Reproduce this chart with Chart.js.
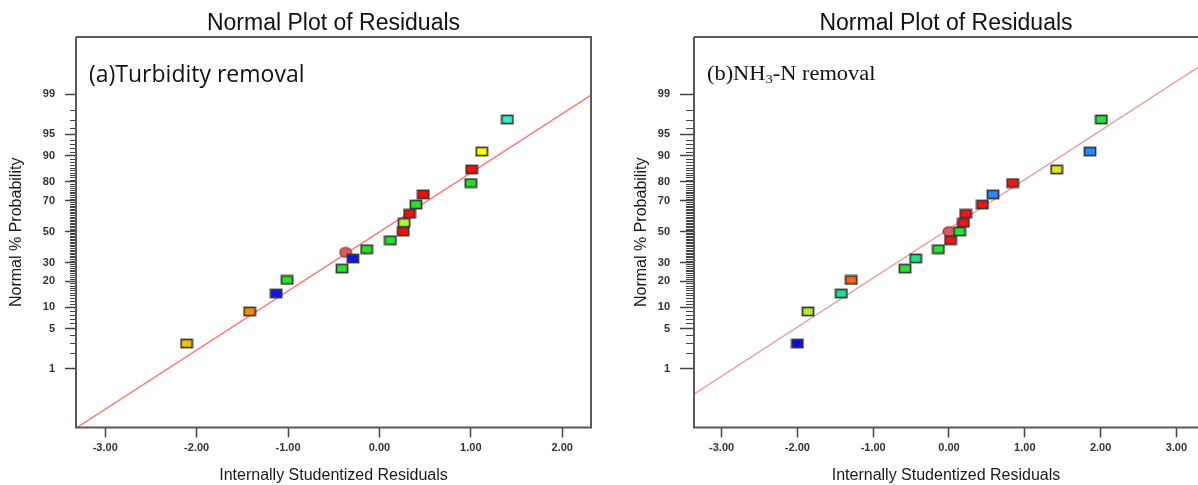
<!DOCTYPE html>
<html lang="en">
<head>
<meta charset="UTF-8">
<title>Normal Plot of Residuals</title>
<script src="https://cdn.jsdelivr.net/npm/chart.js"></script>
<style>
    body {
        margin: 0;
        background: #fff;
        width: 1198px;
        height: 485px;
        overflow: hidden;
        position: relative;
    }
    canvas {
        position: absolute;
        top: 0;
    }
    #chartA { left: 0; }
    #chartB { left: 600px; }
</style>
</head>
<body>

<canvas id="chartA" width="600" height="485"></canvas>
<canvas id="chartB" width="598" height="485"></canvas>

<script>
// probability axis labels (%)
const probTicks = [1, 5, 10, 20, 30, 50, 70, 80, 90, 95, 99];
const residTicksA = [-3, -2, -1, 0, 1, 2];
const residTicksB = [-3, -2, -1, 0, 1, 2, 3];

// (a) Turbidity removal
const turbResid = [-2.11, -1.42, -1.13, -1.01, -0.41, -0.29, -0.14, 0.12, 0.26, 0.27, 0.33, 0.40, 0.48, 1.00, 1.01, 1.12, 1.40];
const turbProb = [2.9, 8.8, 14.7, 20.6, 26.5, 32.4, 38.2, 44.1, 50.0, 55.9, 61.8, 67.6, 73.5, 79.4, 85.3, 91.2, 97.1];
const turbColors = ['#f5c400', '#ff8c00', '#0a14f0', '#22e622', '#22e622', '#0a14f0', '#22e622', '#22e622', '#ff0a0a',
    '#b4ff1e', '#ff0a0a', '#22e622', '#ff0a0a', '#22e622', '#ff0a0a', '#ffff00', '#30eec8'];
const turbCenterResid = [-0.37];
const turbCenterProb = [36.2];
const turbLineResid = [-3.32, 2.32];
const turbLineProb = [0.044, 98.96];

// (b) NH3-N removal
const nh3Resid = [-2.00, -1.86, -1.42, -1.29, -0.58, -0.44, -0.14, 0.02, 0.14, 0.19, 0.22, 0.44, 0.58, 0.84, 1.42, 1.86, 2.01];
const nh3Prob = [2.9, 8.8, 14.7, 20.6, 26.5, 32.4, 38.2, 44.1, 50.0, 55.9, 61.8, 67.6, 73.5, 79.4, 85.3, 91.2, 97.1];
const nh3Colors = ['#0a0ae0', '#b4e632', '#14e68c', '#ff6414', '#22e632', '#14e68c', '#22e632', '#ff1010', '#22e632',
    '#ff1010', '#ff1010', '#ff1010', '#1e8cff', '#ff1010', '#e6e614', '#1e8cff', '#22e632'];
const nh3CenterResid = [0.00];
const nh3CenterProb = [50.0];
const nh3LineResid = [-3.37, 3.29];
const nh3LineProb = [0.29, 99.73];

// inverse of the normal cdf (Acklam), used for the probability axis
function probit(p) {
    const a = [-39.69683028665376, 220.9460984245205, -275.9285104469687, 138.357751867269, -30.66479806614716, 2.506628277459239];
    const b = [-54.47609879822406, 161.5858368580409, -155.6989798598866, 66.80131188771972, -13.28068155288572];
    const c = [-0.007784894002430293, -0.3223964580411365, -2.400758277161838, -2.549732539343734, 4.374664141464968, 2.938163982698783];
    const d = [0.007784695709041462, 0.3224671290700398, 2.445134137142996, 3.754408661907416];
    const pl = 0.02425;
    let q, r;
    if (p < pl) {
        q = Math.sqrt(-2 * Math.log(p));
        return (((((c[0] * q + c[1]) * q + c[2]) * q + c[3]) * q + c[4]) * q + c[5]) / ((((d[0] * q + d[1]) * q + d[2]) * q + d[3]) * q + 1);
    }
    if (p <= 1 - pl) {
        q = p - 0.5;
        r = q * q;
        return (((((a[0] * r + a[1]) * r + a[2]) * r + a[3]) * r + a[4]) * r + a[5]) * q / (((((b[0] * r + b[1]) * r + b[2]) * r + b[3]) * r + b[4]) * r + 1);
    }
    q = Math.sqrt(-2 * Math.log(1 - p));
    return -(((((c[0] * q + c[1]) * q + c[2]) * q + c[3]) * q + c[4]) * q + c[5]) / ((((d[0] * q + d[1]) * q + d[2]) * q + d[3]) * q + 1);
}

// little boxed markers like the Design-Expert plot
function boxMarker(color) {
    const c = document.createElement('canvas');
    c.width = 14;
    c.height = 11;
    const g = c.getContext('2d');
    g.fillStyle = 'rgba(0,0,0,0.12)';
    g.fillRect(0, 0, 14, 11);
    g.fillStyle = color;
    g.fillRect(1.5, 1.5, 11, 8);
    g.strokeStyle = '#383838';
    g.lineWidth = 1.6;
    g.strokeRect(1.5, 1.5, 11, 8);
    return c;
}

function roundMarker() {
    const c = document.createElement('canvas');
    c.width = 14;
    c.height = 12;
    const g = c.getContext('2d');
    g.beginPath();
    g.ellipse(7, 6, 5.8, 4.8, 0, 0, Math.PI * 2);
    g.fillStyle = '#e05858';
    g.fill();
    g.strokeStyle = '#8a3c3c';
    g.lineWidth = 1.3;
    g.stroke();
    return c;
}

function toPoints(xs, ps) {
    return xs.map((x, i) => ({ x: x, y: probit(ps[i] / 100) }));
}

// frame, minor ticks of the probability axis and the panel label
const decorPlugin = {
    id: 'decor',
    afterDraw(chart, args, opts) {
        const ctx = chart.ctx;
        const area = chart.chartArea;
        const y = chart.scales.y;
        ctx.save();
        // minor ticks on every whole percent
        ctx.strokeStyle = '#444';
        ctx.lineWidth = 1;
        for (let p = 1; p <= 99; p++) {
            if (probTicks.includes(p)) continue;
            const py = Math.round(y.getPixelForValue(probit(p / 100))) + 0.5;
            ctx.beginPath();
            ctx.moveTo(area.left - opts.minorLen, py);
            ctx.lineTo(area.left, py);
            ctx.stroke();
        }
        // frame
        ctx.strokeStyle = '#585858';
        ctx.lineWidth = 2;
        ctx.beginPath();
        ctx.moveTo(area.left, area.top);
        ctx.lineTo(area.left, area.bottom);
        if (opts.rightEdge) {
            ctx.lineTo(area.right, area.bottom);
            ctx.lineTo(area.right, area.top);
            ctx.lineTo(area.left, area.top);
        } else {
            ctx.lineTo(area.right + 2, area.bottom);
            ctx.moveTo(area.left, area.top);
            ctx.lineTo(area.right + 2, area.top);
        }
        ctx.stroke();
        opts.label(ctx);
        ctx.restore();
    }
};

function makeChart(id, cfg) {
    const axisFont = { family: '"Liberation Sans", Arial, sans-serif', size: 11, weight: 'bold' };
    new Chart(document.getElementById(id), {
        type: 'scatter',
        data: {
            datasets: [
                {
                    data: toPoints(cfg.resid, cfg.prob),
                    pointStyle: cfg.colors.map(boxMarker),
                    pointRadius: 6,
                    pointHoverRadius: 6
                },
                {
                    data: toPoints(cfg.centerResid, cfg.centerProb),
                    pointStyle: roundMarker(),
                    pointRadius: 6,
                    pointHoverRadius: 6
                },
                {
                    type: 'line',
                    data: toPoints(cfg.lineResid, cfg.lineProb),
                    borderColor: cfg.lineColor,
                    borderWidth: 1.5,
                    pointRadius: 0,
                    fill: false
                }
            ]
        },
        options: {
            responsive: false,
            animation: false,
            events: [],
            layout: { autoPadding: false, padding: { left: 0, right: cfg.padRight, top: 0, bottom: 0 } },
            plugins: {
                legend: { display: false },
                tooltip: { enabled: false },
                title: {
                    display: true,
                    text: 'Normal Plot of Residuals',
                    fullSize: false,
                    color: '#111',
                    font: { family: '"Liberation Sans", Arial, sans-serif', size: 23, weight: 'normal' },
                    padding: { top: 9.5, bottom: 0 }
                },
                decor: { minorLen: cfg.minorLen, rightEdge: cfg.rightEdge, label: cfg.label }
            },
            scales: {
                x: {
                    type: 'linear',
                    min: cfg.xMin,
                    max: cfg.xMax,
                    afterFit: s => {
                        s.height = 485 - 427.5;
                        s.paddingLeft = 0;
                        s.paddingRight = 0;
                    },
                    afterBuildTicks: s => { s.ticks = cfg.xTicks.map(v => ({ value: v })); },
                    grid: { drawOnChartArea: false, drawTicks: true, tickLength: 10, tickColor: '#444', tickWidth: 1.5 },
                    border: { display: false },
                    ticks: {
                        font: axisFont,
                        color: '#333',
                        padding: 4,
                        maxRotation: 0,
                        callback: v => v.toFixed(2)
                    },
                    title: {
                        display: true,
                        text: 'Internally Studentized Residuals',
                        color: '#1a1a1a',
                        font: { family: '"Liberation Sans", Arial, sans-serif', size: 16 },
                        padding: { top: 0, bottom: 0 }
                    }
                },
                y: {
                    type: 'linear',
                    min: -3.317,
                    max: 3.29,
                    afterFit: s => {
                        s.width = cfg.yWidth;
                        s.paddingTop = 0;
                        s.paddingBottom = 0;
                    },
                    afterBuildTicks: s => { s.ticks = probTicks.map(p => ({ value: probit(p / 100) })); },
                    grid: { drawOnChartArea: false, drawTicks: true, tickLength: cfg.majorLen, tickColor: '#444', tickWidth: 1.5 },
                    border: { display: false },
                    ticks: {
                        font: axisFont,
                        color: '#333',
                        padding: 10,
                        callback: (v, i) => probTicks[i]
                    },
                    title: {
                        display: true,
                        text: 'Normal % Probability',
                        color: '#1a1a1a',
                        font: { family: '"Liberation Sans", Arial, sans-serif', size: 16 },
                        padding: { top: cfg.yTitlePad, bottom: 0 }
                    }
                }
            }
        },
        plugins: [decorPlugin]
    });
}

makeChart('chartA', {
    resid: turbResid, prob: turbProb, colors: turbColors,
    centerResid: turbCenterResid, centerProb: turbCenterProb,
    lineResid: turbLineResid, lineProb: turbLineProb, lineColor: '#ff7878',
    xMin: -3.32, xMax: 2.315, xTicks: residTicksA,
    padRight: 9, yWidth: 76, yTitlePad: 7, majorLen: 11, minorLen: 6, rightEdge: true,
    label: ctx => {
        ctx.fillStyle = '#111';
        ctx.font = '23px "Open Sans", sans-serif';
        ctx.textBaseline = 'alphabetic';
        ctx.textAlign = 'left';
        ctx.fillText('(a)Turbidity removal', 89, 82);
    }
});

makeChart('chartB', {
    resid: nh3Resid, prob: nh3Prob, colors: nh3Colors,
    centerResid: nh3CenterResid, centerProb: nh3CenterProb,
    lineResid: nh3LineResid, lineProb: nh3LineProb, lineColor: '#eea0a0',
    xMin: -3.364, xMax: 3.285, xTicks: residTicksB,
    padRight: 0, yWidth: 94, yTitlePad: 32.4, majorLen: 14, minorLen: 8, rightEdge: false,
    label: ctx => {
        ctx.fillStyle = '#111';
        ctx.textBaseline = 'alphabetic';
        ctx.textAlign = 'left';
        ctx.translate(107, 80);
        ctx.scale(1.12, 1);
        let x = 0;
        ctx.font = '20px "Liberation Serif", "Times New Roman", serif';
        ctx.fillText('(b)NH', x, 0);
        x += ctx.measureText('(b)NH').width;
        ctx.font = '13px "Liberation Serif", "Times New Roman", serif';
        ctx.fillText('3', x, 3);
        x += ctx.measureText('3').width;
        ctx.font = '20px "Liberation Serif", "Times New Roman", serif';
        ctx.fillText('-N removal', x, 0);
    }
});
</script>
</body>
</html>
